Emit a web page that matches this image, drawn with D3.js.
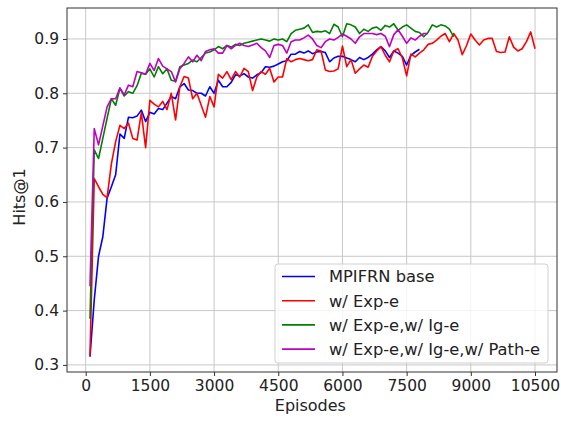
<!DOCTYPE html>
<html lang="en">
<head>
<meta charset="UTF-8">
<title>Hits@1 vs Episodes</title>
<script src="https://d3js.org/d3.v7.min.js"></script>
<style>
  * { margin: 0; padding: 0; }
  body { background: #fff; font-family: "DejaVu Sans", sans-serif; }
  .tick text { font-size: 15.5px; fill: #222; }
  .grid line { stroke: #c8c8c8; stroke-width: 1; }
</style>
</head>
<body>
<svg id="chart" width="561" height="423"></svg>
<script>
// Episodes are every 100, starting at 100
const STEP = 100;
const xTicks = [0, 1500, 3000, 4500, 6000, 7500, 9000, 10500];
const yTicks = [0.3, 0.4, 0.5, 0.6, 0.7, 0.8, 0.9];

const baseVals = [0.315, 0.42, 0.50, 0.536, 0.607, 0.628, 0.65, 0.725, 0.717, 0.756,
  0.755, 0.758, 0.769, 0.748, 0.765, 0.762, 0.772, 0.77, 0.782, 0.794,
  0.79, 0.812, 0.818, 0.806, 0.805, 0.80, 0.80, 0.795, 0.812, 0.80,
  0.824, 0.812, 0.812, 0.82, 0.834, 0.832, 0.836, 0.83, 0.828, 0.834,
  0.838, 0.849, 0.848, 0.85, 0.854, 0.858, 0.86, 0.872, 0.872, 0.877,
  0.874, 0.878, 0.873, 0.876, 0.877, 0.875, 0.858, 0.865, 0.868, 0.868,
  0.865, 0.862, 0.858, 0.866, 0.862, 0.866, 0.872, 0.88, 0.886, 0.878,
  0.866, 0.878, 0.874, 0.868, 0.852, 0.87, 0.876, 0.881];

const expVals = [0.317, 0.643, 0.628, 0.614, 0.608, 0.67, 0.711, 0.741, 0.735, 0.745,
  0.717, 0.714, 0.764, 0.700, 0.787, 0.78, 0.775, 0.785, 0.77, 0.80,
  0.751, 0.812, 0.831, 0.828, 0.79, 0.80, 0.778, 0.756, 0.794, 0.775,
  0.835, 0.828, 0.84, 0.825, 0.84, 0.83, 0.846, 0.84, 0.805, 0.83,
  0.84, 0.835, 0.846, 0.821, 0.83, 0.83, 0.864, 0.858, 0.862, 0.864,
  0.862, 0.86, 0.862, 0.88, 0.878, 0.843, 0.84, 0.841, 0.845, 0.887,
  0.849, 0.862, 0.837, 0.845, 0.852, 0.848, 0.868, 0.878, 0.886, 0.87,
  0.858, 0.878, 0.882, 0.865, 0.832, 0.872, 0.867, 0.874, 0.88, 0.89,
  0.892, 0.898, 0.905, 0.91, 0.895, 0.91, 0.898, 0.871, 0.888, 0.909,
  0.898, 0.889, 0.898, 0.901, 0.901, 0.877, 0.875, 0.876, 0.904, 0.885,
  0.878, 0.882, 0.895, 0.913, 0.882];

const igVals = [0.385, 0.696, 0.68, 0.717, 0.754, 0.79, 0.778, 0.809, 0.795, 0.803,
  0.80, 0.814, 0.837, 0.835, 0.845, 0.83, 0.849, 0.836, 0.845, 0.824,
  0.822, 0.849, 0.852, 0.855, 0.861, 0.858, 0.866, 0.874, 0.876, 0.88,
  0.886, 0.882, 0.888, 0.885, 0.89, 0.888, 0.892, 0.894, 0.896, 0.898,
  0.90, 0.898, 0.896, 0.90, 0.898, 0.90, 0.895, 0.91, 0.916, 0.918,
  0.92, 0.926, 0.912, 0.914, 0.913, 0.915, 0.91, 0.927, 0.922, 0.904,
  0.928, 0.926, 0.922, 0.91, 0.918, 0.914, 0.92, 0.922, 0.916, 0.925,
  0.922, 0.928, 0.916, 0.922, 0.926, 0.92, 0.914, 0.912, 0.904, 0.912,
  0.926, 0.922, 0.926, 0.924, 0.918, 0.904];

const pathVals = [0.445, 0.735, 0.705, 0.74, 0.775, 0.79, 0.79, 0.81, 0.797, 0.815,
  0.812, 0.84, 0.838, 0.835, 0.855, 0.842, 0.864, 0.85, 0.845, 0.84,
  0.821, 0.845, 0.855, 0.867, 0.858, 0.87, 0.86, 0.877, 0.88, 0.882,
  0.874, 0.874, 0.888, 0.882, 0.888, 0.892, 0.888, 0.886, 0.889, 0.892,
  0.884, 0.878, 0.866, 0.888, 0.89, 0.888, 0.874, 0.895, 0.898, 0.898,
  0.902, 0.907, 0.90, 0.888, 0.884, 0.895, 0.90, 0.898, 0.903, 0.909,
  0.905, 0.90, 0.892, 0.904, 0.91, 0.91, 0.91, 0.908, 0.91, 0.905,
  0.886, 0.908, 0.917, 0.905, 0.892, 0.902, 0.898, 0.905, 0.91, 0.91];

const seriesNames = ['MPIFRN base', 'w/ Exp-e', 'w/ Exp-e,w/ Ig-e', 'w/ Exp-e,w/ Ig-e,w/ Path-e'];
const seriesColors = ['#0000ff', '#ff0000', '#008000', '#bf00bf'];
const seriesVals = [baseVals, expVals, igVals, pathVals];

const margin = { left: 67, right: 4, top: 8, bottom: 51 };
const W = 561, H = 423;

const svg = d3.select('#chart');

const x = d3.scaleLinear().domain([-437, 11014]).range([margin.left, W - margin.right]);
const y = d3.scaleLinear().domain([0.287, 0.957]).range([H - margin.bottom, margin.top]);

// grid
const grid = svg.append('g').attr('class', 'grid');
grid.selectAll('.gx').data(xTicks).enter().append('line')
  .attr('x1', d => x(d)).attr('x2', d => x(d))
  .attr('y1', margin.top).attr('y2', H - margin.bottom);
grid.selectAll('.gy').data(yTicks).enter().append('line')
  .attr('y1', d => y(d)).attr('y2', d => y(d))
  .attr('x1', margin.left).attr('x2', W - margin.right);

// lines
const line = d3.line()
  .x((d, i) => x((i + 1) * STEP))
  .y(d => y(d));

seriesVals.forEach((vals, k) => {
  svg.append('path')
    .datum(vals)
    .attr('fill', 'none')
    .attr('stroke', seriesColors[k])
    .attr('stroke-width', 1.6)
    .attr('stroke-linejoin', 'round')
    .attr('d', line);
});

// axes
const xAxis = svg.append('g')
  .attr('transform', `translate(0,${H - margin.bottom})`)
  .call(d3.axisBottom(x).tickValues(xTicks).tickSize(4).tickPadding(4).tickFormat(d3.format('d')));
const yAxis = svg.append('g')
  .attr('transform', `translate(${margin.left},0)`)
  .call(d3.axisLeft(y).tickValues(yTicks).tickSize(4).tickPadding(4).tickFormat(d3.format('.1f')));
[xAxis, yAxis].forEach(a => {
  a.select('.domain').remove();
  a.selectAll('.tick line').attr('stroke', '#333');
  a.selectAll('.tick text').style('font-family', '"DejaVu Sans", sans-serif');
});

// frame
svg.append('rect')
  .attr('x', margin.left).attr('y', margin.top)
  .attr('width', W - margin.left - margin.right)
  .attr('height', H - margin.top - margin.bottom)
  .attr('fill', 'none').attr('stroke', '#333').attr('stroke-width', 1);

// axis labels
svg.append('text')
  .attr('x', x(5250)).attr('y', 411)
  .attr('text-anchor', 'middle')
  .style('font-size', '16px').style('fill', '#222')
  .text('Episodes');
svg.append('text')
  .attr('transform', 'translate(25,197) rotate(-90)')
  .attr('text-anchor', 'middle')
  .style('font-size', '16px').style('fill', '#222')
  .text('Hits@1');

// legend
const lg = svg.append('g');
lg.append('rect')
  .attr('x', 275).attr('y', 264).attr('width', 273).attr('height', 99).attr('rx', 3)
  .attr('fill', '#fff').attr('fill-opacity', 0.8)
  .attr('stroke', '#d0d0d0').attr('stroke-width', 1);
seriesNames.forEach((name, k) => {
  const yy = 276.5 + k * 24.2;
  lg.append('line')
    .attr('x1', 282).attr('x2', 315).attr('y1', yy).attr('y2', yy)
    .attr('stroke', seriesColors[k]).attr('stroke-width', 1.6);
  lg.append('text')
    .attr('x', 329).attr('y', yy + 5.8)
    .style('font-size', '16.3px').style('fill', '#222')
    .text(name);
});
</script>
</body>
</html>
